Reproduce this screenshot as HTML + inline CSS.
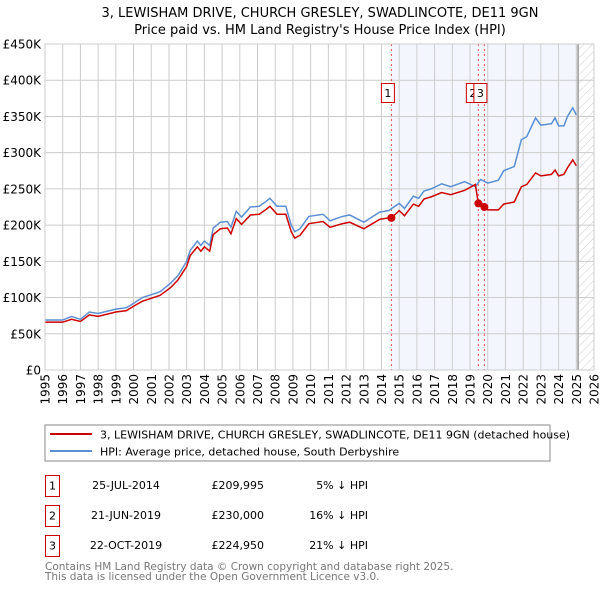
<!DOCTYPE html>
<html><head><meta charset="utf-8"><style>
body{margin:0;background:#fff;font-family:"DejaVu Sans","Liberation Sans",sans-serif;}
svg text{font-family:"DejaVu Sans","Liberation Sans",sans-serif;}
</style></head><body>
<svg id="c" width="600" height="590" xmlns="http://www.w3.org/2000/svg">
<defs><pattern id="hatch" patternUnits="userSpaceOnUse" width="6" height="6" patternTransform="rotate(45)"><line x1="0" y1="0" x2="0" y2="6" stroke="#ccc" stroke-width="1"/></pattern></defs>
<text x="320" y="17" font-size="13" text-anchor="middle">3, LEWISHAM DRIVE, CHURCH GRESLEY, SWADLINCOTE, DE11 9GN</text>
<text x="320" y="34" font-size="13" text-anchor="middle">Price paid vs. HM Land Registry's House Price Index (HPI)</text>
<g id="plot"></g>
<rect x="45" y="425" width="505" height="36" fill="#fff" stroke="#888"/>
<line x1="50" y1="434" x2="92" y2="434" stroke="#cc0000" stroke-width="2"/>
<text x="100" y="438.5" font-size="11">3, LEWISHAM DRIVE, CHURCH GRESLEY, SWADLINCOTE, DE11 9GN (detached house)</text>
<line x1="50" y1="451" x2="92" y2="451" stroke="#5b8fd4" stroke-width="2"/>
<text x="100" y="455.5" font-size="11">HPI: Average price, detached house, South Derbyshire</text>
<g font-size="11">
<rect x="45.5" y="475.5" width="14" height="21" fill="#fff" stroke="#cc0000"/><text x="52.5" y="489.5" text-anchor="middle">1</text>
<text x="126" y="489" text-anchor="middle">25-JUL-2014</text>
<text x="264" y="489" text-anchor="end">£209,995</text>
<text x="368" y="489" text-anchor="end">5% ↓ HPI</text>
<rect x="45.5" y="505.5" width="14" height="21" fill="#fff" stroke="#cc0000"/><text x="52.5" y="519.5" text-anchor="middle">2</text>
<text x="126" y="519" text-anchor="middle">21-JUN-2019</text>
<text x="264" y="519" text-anchor="end">£230,000</text>
<text x="368" y="519" text-anchor="end">16% ↓ HPI</text>
<rect x="45.5" y="535.5" width="14" height="21" fill="#fff" stroke="#cc0000"/><text x="52.5" y="549.5" text-anchor="middle">3</text>
<text x="126" y="549" text-anchor="middle">22-OCT-2019</text>
<text x="264" y="549" text-anchor="end">£224,950</text>
<text x="368" y="549" text-anchor="end">21% ↓ HPI</text>
</g>
<text x="45" y="570" font-size="10.5" fill="#777">Contains HM Land Registry data © Crown copyright and database right 2025.</text>
<text x="45" y="580" font-size="10.5" fill="#777">This data is licensed under the Open Government Licence v3.0.</text>
</svg>
<script>
const years=[1995,1996,1996.5,1997,1997.5,1998,1999,1999.6,2000,2000.5,2001,2001.5,2002.1,2002.5,2003,2003.2,2003.6,2003.8,2004,2004.3,2004.5,2004.9,2005.3,2005.5,2005.8,2006.1,2006.6,2007.1,2007.5,2007.7,2008.1,2008.6,2008.9,2009.1,2009.4,2009.9,2010.7,2011.1,2011.8,2012.2,2013.0,2013.9,2014.4,2015.0,2015.3,2015.8,2016.1,2016.4,2016.8,2017.4,2017.9,2018.7,2019.3,2019.6,2020.0,2020.6,2020.9,2021.5,2021.9,2022.2,2022.7,2023.0,2023.6,2023.8,2024.0,2024.3,2024.5,2024.8,2025.0];
const hpi=[69,69,74,70,80,78,84,86,92,100,104,108,120,130,150,165,178,172,178,172,196,204,205,197,219,211,225,226,233,237,226,226,200,191,195,212,215,206,212,214,204,218,220,230,223,240,237,247,250,257,253,260,253,263,258,262,275,281,318,322,348,338,340,348,337,337,350,362,352];
const priceYears=[1995,1996,1996.5,1997,1997.5,1998,1999,1999.6,2000,2000.5,2001,2001.5,2002.1,2002.5,2003,2003.2,2003.6,2003.8,2004,2004.3,2004.5,2004.9,2005.3,2005.5,2005.8,2006.1,2006.6,2007.1,2007.5,2007.7,2008.1,2008.6,2008.9,2009.1,2009.4,2009.9,2010.7,2011.1,2011.8,2012.2,2013.0,2013.9,2014.4,2014.56,2015.0,2015.3,2015.8,2016.1,2016.4,2016.8,2017.4,2017.9,2018.7,2019.3,2019.47,2019.6,2019.8,2020.0,2020.6,2020.9,2021.5,2021.9,2022.2,2022.7,2023.0,2023.6,2023.8,2024.0,2024.3,2024.5,2024.8,2025.0];
const price=[66,66,70,67,76,74,80,82,88,95,99,103,114,124,143,158,170,164,170,164,187,195,196,188,209,201,214,215,222,226,215,215,191,182,186,202,205,197,202,204,195,208,210,210,220,213,229,226,236,239,245,242,248,256,230,232,225,221,221,229,232,253,256,272,268,270,276,268,270,279,290,282];
const sales=[{id:"1",year:2014.56,value:209.995},{id:"2",year:2019.47,value:230},{id:"3",year:2019.81,value:224.95}];
const yTicks=[0,50,100,150,200,250,300,350,400,450];
const yLabels=["£0","£50K","£100K","£150K","£200K","£250K","£300K","£350K","£400K","£450K"];
const xTicks=[1995,1996,1997,1998,1999,2000,2001,2002,2003,2004,2005,2006,2007,2008,2009,2010,2011,2012,2013,2014,2015,2016,2017,2018,2019,2020,2021,2022,2023,2024,2025,2026];

const L=45,R=594,T=44,B=370;
const xs=y=>L+(y-1995)/(2026-1995)*(R-L);
const ys=v=>B-v/450*(B-T);
const NS="http://www.w3.org/2000/svg";
const g=document.getElementById('plot');
function mk(tag,attrs){const e=document.createElementNS(NS,tag);for(const k in attrs)e.setAttribute(k,attrs[k]);g.appendChild(e);return e;}
let e=mk('rect',{x:xs(2014.56),y:T,width:xs(2025.1)-xs(2014.56),height:B-T,fill:'#eef3fc',opacity:0.7});


e=mk('rect',{x:xs(2025.1),y:T,width:R-xs(2025.1),height:B-T,fill:'url(#hatch)'});


yTicks.forEach((t,i)=>{
 let l=mk('line',{x1:L,x2:R,y1:ys(t),y2:ys(t),stroke:'#ccc'});
 
 
 let tx=mk('text',{x:L-4,y:ys(t)+4.5,'font-size':12,'text-anchor':'end'});tx.textContent=yLabels[i];
 
 
});
xTicks.forEach(t=>{
 let l=mk('line',{x1:xs(t),x2:xs(t),y1:T,y2:B,stroke:'#ccc'});
 
 
 let tx=mk('text',{x:0,y:0,'font-size':12,'text-anchor':'end',transform:`translate(${xs(t)+4.5},${B+4}) rotate(-90)`});tx.textContent=t;
 
 
});
e=mk('line',{x1:xs(2025.1),x2:xs(2025.1),y1:T,y2:B,stroke:'#999','stroke-width':1.5});


sales.forEach(s=>{
 let l=mk('line',{x1:xs(s.year),x2:xs(s.year),y1:T,y2:B,stroke:'#e05050','stroke-dasharray':'2,3'});
 
 
});
e=mk('polyline',{points:years.map((y,i)=>xs(y)+','+ys(hpi[i])).join(' '),fill:'none',stroke:'#5b8fd4','stroke-width':1.5});


e=mk('polyline',{points:priceYears.map((y,i)=>xs(y)+','+ys(price[i])).join(' '),fill:'none',stroke:'#cc0000','stroke-width':1.5});


const badgeOffsets=[-3.5,-5.5,-4];
sales.forEach((s,i)=>{
 let c=mk('circle',{cx:xs(s.year),cy:ys(s.value),r:4,fill:'#cc0000'});
 
 
 const bx=xs(s.year)+badgeOffsets[i];
 let r=mk('rect',{x:bx-6.5,y:83.5,width:13,height:19,fill:'#fff',stroke:'#cc0000'});
 
 
 let t=mk('text',{x:bx,y:97,'font-size':11,'text-anchor':'middle'});t.textContent=s.id;
 
 
});
e=mk('rect',{x:L,y:T,width:R-L,height:B-T,fill:'none',stroke:'#ccc'});


</script>
</body></html>
